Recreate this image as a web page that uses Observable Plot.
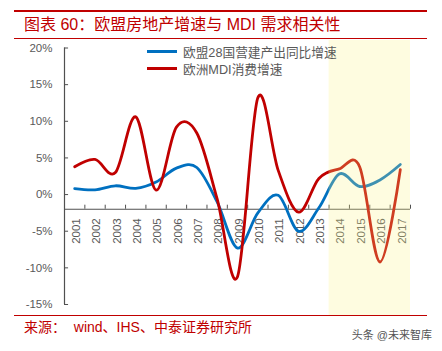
<!DOCTYPE html>
<html>
<head>
<meta charset="utf-8">
<script src="https://cdn.jsdelivr.net/npm/d3@7"></script>
<script src="https://cdn.jsdelivr.net/npm/@observablehq/plot@0.6"></script>
<style>
  html, body { margin: 0; padding: 0; background: #fff; }
  #wrap { position: relative; width: 442px; height: 351px; overflow: hidden; background: #fff;
          font-family: "Liberation Sans", Arial, "Noto Sans CJK SC", sans-serif; }
  .hline { position: absolute; left: 14px; width: 413px; background: #C00000; }
  #title { position: absolute; left: 24px; top: 15px; font-size: 16px; line-height: 20px; color: #C00000; white-space: nowrap; }
  #chart { position: absolute; left: 0; top: 40px; }
  .leg { position: absolute; left: 147px; height: 18px; font-size: 12.7px; color: #595959; white-space: nowrap; display: flex; align-items: center; }
  .leg .sw { width: 30px; height: 3px; margin-right: 6px; }
  #source { position: absolute; left: 24px; top: 318px; font-size: 14px; line-height: 18px; color: #C00000; white-space: nowrap; }
  #wm { position: absolute; right: 10px; top: 328px; font-size: 11px; line-height: 14px; color: #555; white-space: nowrap; }
</style>
</head>
<body>
<div id="wrap">
  <div class="hline" style="top:10px;height:2px"></div>
  <div id="title">图表 60：欧盟房地产增速与 MDI 需求相关性</div>
  <div class="hline" style="top:38px;height:1px"></div>
  <div id="chart"></div>
  <div id="legend"></div>
  <div class="hline" style="top:315px;height:1px"></div>
  <div id="source">来源：&nbsp; wind、IHS、中泰证券研究所</div>
  <div id="wm">头条 @未来智库</div>
</div>
<script>
// ---- data ----
const years = [2001, 2002, 2003, 2004, 2005, 2006, 2007, 2008, 2009, 2010, 2011, 2012, 2013, 2014, 2015, 2016, 2017];
const euConstruction = [0.8, 0.65, 1.2, 0.85, 1.7, 3.6, 3.7, -1.0, -7.3, -2.5, -0.1, -5.0, -1.8, 2.8, 1.1, 2.0, 4.1];
const euMdi = [3.8, 4.8, 3.0, 10.6, 0.6, 9.2, 8.4, -0.6, -11.2, 13.2, 3.3, -2.4, 2.2, 3.5, 3.8, -9.2, 3.4];
const seriesNames = ["欧盟28国营建产出同比增速", "欧洲MDI消费增速"];
const seriesColors = ["#0070C0", "#C00000"];
const yTicks = [-15, -10, -5, 0, 5, 10, 15, 20];
const yearLabels = years.map(String);
const shadedYears = [2014, 2017];
const xAxisCrossesAt = -2;

// ---- build ----
const rows = [];
years.forEach((yr, i) => {
  rows.push({year: yr, value: euConstruction[i], series: seriesNames[0]});
  rows.push({year: yr, value: euMdi[i], series: seriesNames[1]});
});
const x0 = d3.min(years) - 0.5, x1 = d3.max(years) + 0.5;
const boundaries = years.map(y => y + 0.5);
const gray = "#595959";

const chart = Plot.plot({
  width: 442,
  height: 275,
  marginTop: 7.5,
  marginBottom: 11,
  marginLeft: 64,
  marginRight: 32,
  style: {background: "transparent", fontFamily: "'Liberation Sans', Arial, sans-serif", color: gray, overflow: "visible"},
  x: {domain: [x0, x1], axis: null},
  y: {domain: [d3.min(yTicks), d3.max(yTicks)], axis: null},
  color: {domain: seriesNames, range: seriesColors},
  marks: [
    Plot.axisY({ticks: yTicks, tickSize: 0, tickPadding: 12, tickFormat: d => d + "%", fontSize: 11.5, label: null, color: gray}),
    Plot.ruleX([x0], {y1: d3.min(yTicks), y2: d3.max(yTicks), stroke: "#505050", strokeWidth: 1.2}),
    Plot.ruleY(yTicks, {y: d => d, x1: x0, x2: x0 + 0.2, stroke: "#505050"}),
    Plot.ruleY([xAxisCrossesAt], {x1: x0, x2: x1, stroke: "#505050", strokeWidth: 1.2}),
    Plot.ruleX(boundaries, {x: d => d, y1: xAxisCrossesAt, y2: xAxisCrossesAt + 0.55, stroke: "#505050"}),
    Plot.text(years, {x: d => d, y: xAxisCrossesAt, text: (d, i) => yearLabels[i], rotate: -90, textAnchor: "end", dy: 9, dx: 1.5, fontSize: 11.5, fill: gray}),
    Plot.line(rows, {x: "year", y: "value", z: "series", stroke: "series", curve: "cardinal", strokeWidth: 2.8}),
    Plot.rect([shadedYears], {x1: d => d[0] - 0.5, x2: d => d[1] + 0.5, fill: "#FCF484", fillOpacity: 0.25, insetTop: -7.5, insetBottom: -11})
  ]
});
document.getElementById("chart").appendChild(chart);

// legend
const leg = document.getElementById("legend");
seriesNames.forEach((name, i) => {
  const d = document.createElement("div");
  d.className = "leg";
  d.style.top = (42 + i * 17.6) + "px";
  d.innerHTML = `<span class="sw" style="background:${seriesColors[i]}"></span><span>${name}</span>`;
  leg.appendChild(d);
});
</script>
</body>
</html>
